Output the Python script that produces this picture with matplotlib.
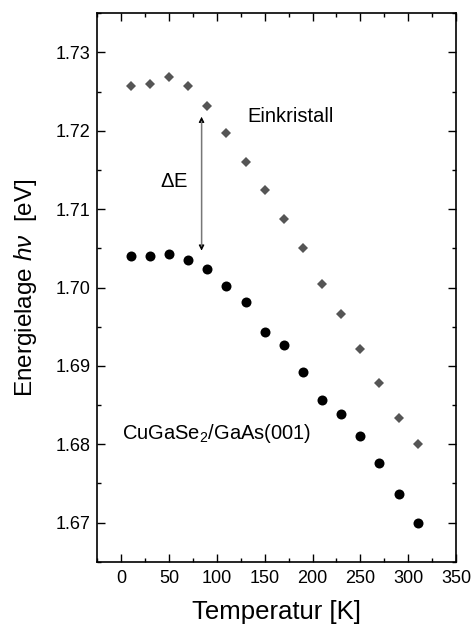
import numpy as np
import matplotlib.pyplot as plt
from matplotlib.ticker import MultipleLocator

plt.rcParams['font.family'] = ['Liberation Sans', 'DejaVu Sans']
plt.rcParams['mathtext.fontset'] = 'custom'
plt.rcParams['mathtext.rm'] = 'Liberation Sans'
plt.rcParams['mathtext.it'] = 'Liberation Sans:italic'

temp = [10, 30, 50, 70, 90, 110, 130, 150, 170, 190, 210, 230, 250, 270, 290, 310]
e_einkristall = [1.7257, 1.7260, 1.7269, 1.7257, 1.7232, 1.7197, 1.7160, 1.7124,
                 1.7087, 1.7051, 1.7004, 1.6966, 1.6921, 1.6878, 1.6834, 1.6800]
e_schicht = [1.7040, 1.7040, 1.7043, 1.7035, 1.7024, 1.7002, 1.6982, 1.6943,
             1.6927, 1.6892, 1.6857, 1.6838, 1.6811, 1.6776, 1.6736, 1.6700]

fig = plt.figure(figsize=(4.73, 6.25), dpi=100)
ax = fig.add_axes([0.2057, 0.1013, 0.7583, 0.8774])

ax.plot(temp, e_einkristall, 'D', color='#555555', markersize=5.6, markeredgewidth=0)
ax.plot(temp, e_schicht, 'o', color='black', markersize=7.2, markeredgewidth=0)

ax.annotate('', xy=(84, 1.7218), xytext=(84, 1.7047),
            arrowprops=dict(arrowstyle='<|-|>', color='black', lw=0.8,
                            mutation_scale=8, shrinkA=0, shrinkB=0))
ax.annotate('', xy=(84, 1.7212), xytext=(84, 1.7053),
            arrowprops=dict(arrowstyle='-', color='#777777', lw=1.0,
                            shrinkA=0, shrinkB=0))
ax.text(55, 1.7135, r'$\Delta$E', fontsize=14.5, ha='center', va='center')
ax.text(132, 1.7218, 'Einkristall', fontsize=14.5, ha='left', va='center')
ax.text(1, 1.6814, r'CuGaSe$_2$/GaAs(001)', fontsize=14.5, ha='left', va='center')

ax.set_xlim(-25, 350)
ax.set_ylim(1.665, 1.735)
ax.xaxis.set_major_locator(MultipleLocator(50))
ax.xaxis.set_minor_locator(MultipleLocator(25))
ax.yaxis.set_major_locator(MultipleLocator(0.01))
ax.yaxis.set_minor_locator(MultipleLocator(0.005))
ax.yaxis.set_major_formatter(plt.FormatStrFormatter('%.2f'))
ax.tick_params(which='both', direction='in', top=True, right=True, labelsize=13)
ax.tick_params(which='major', length=6, width=1)
ax.tick_params(which='minor', length=3, width=1)
ax.tick_params(axis='x', pad=6)
ax.tick_params(axis='y', pad=5)
for s in ax.spines.values():
    s.set_linewidth(1.2)

ax.set_xlabel('Temperatur [K]', fontsize=18.5, labelpad=9)
ax.set_ylabel(r'Energielage $\mathit{h\nu}$  [eV]', fontsize=17.5, labelpad=12)

fig.savefig('out.png', dpi=100)
